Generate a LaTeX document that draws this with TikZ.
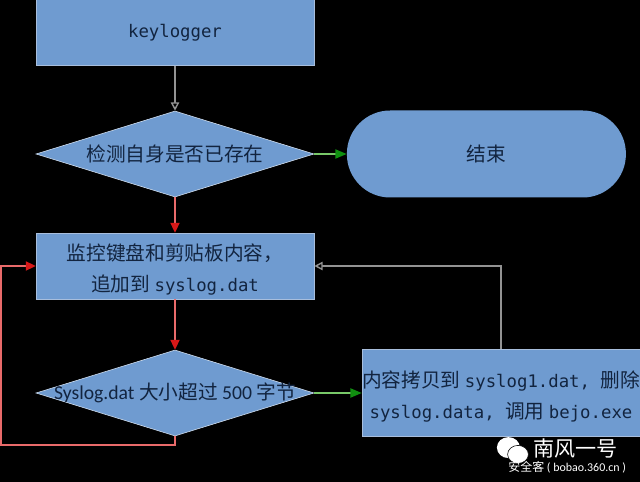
\documentclass[tikz,border=0pt]{standalone}
\usepackage{fontspec}
\setmainfont{Carlito}
\setmonofont[Scale=0.88]{DejaVu Sans Mono}
\newfontfamily\cjk{Noto Sans CJK SC}
\usetikzlibrary{shapes.geometric,arrows.meta}
\definecolor{boxfill}{HTML}{6F9BD0}
\definecolor{boxline}{HTML}{A8BEDC}
\definecolor{boxtext}{HTML}{12243F}
\definecolor{redshaft}{HTML}{E86A6A}
\definecolor{redtip}{HTML}{D81818}
\definecolor{greenshaft}{HTML}{78C868}
\definecolor{greentip}{HTML}{109010}
\tikzset{
  flowbox/.style={draw=boxline,fill=boxfill,text=boxtext,minimum width=6.95cm,inner sep=0,align=center,font=\fontsize{14pt}{22pt}\selectfont},
  flowdiamond/.style={diamond,draw=white!70!boxfill,fill=boxfill,text=boxtext,minimum width=6.95cm,minimum height=2.15cm,inner sep=0,font=\fontsize{14pt}{22pt}\selectfont},
  greyline/.style={draw=gray!85,line width=1pt,-{Triangle[length=6pt,width=6pt,fill=black,color=gray!85]}},
  redline/.style={draw=redshaft,line width=1pt,-{Triangle[length=7pt,width=6.5pt,fill=redtip,color=redtip]}},
  greenline/.style={draw=greenshaft,line width=1pt,-{Triangle[length=8pt,width=6.5pt,fill=greentip,color=greentip]}},
}
\begin{document}
\begin{tikzpicture}
\fill [color=black] (0, 0) rectangle (16, -12.05);
\useasboundingbox (0, 0) rectangle (16, -12.05);

\node (logger) at (4.375, -0.81) [flowbox,minimum height=1.65cm] {\ttfamily keylogger};
\node (check) at (4.375, -3.85) [flowdiamond] {\makebox[0pt]{\cjk 检测自身是否已存在}};
\node (finish) at (12.16, -3.85) [flowbox,draw=none,rectangle,rounded corners=1.08cm,minimum width=6.975cm,minimum height=2.175cm] {\cjk 结束};
\node (monitor) at (4.375, -6.65) [flowbox,minimum height=1.65cm] {\rule{0pt}{17pt}{\cjk 监控键盘和剪贴板内容，}\\{\cjk 追加到 }\texttt{syslog.dat}};
\node (size) at (4.375, -9.825) [flowdiamond] {\makebox[0pt]{Syslog.dat {\cjk 大小超过} 500 {\cjk 字节}}};
\node (copy) at (12.525, -9.825) [flowbox,minimum height=2.175cm] {\rule{0pt}{17pt}{\cjk 内容拷贝到 }\texttt{syslog1.dat, }{\cjk 删除}\\\texttt{syslog.data, }{\cjk 调用 }\texttt{bejo.exe}};

\coordinate (loopa) at (4.375, -11.13);
\coordinate (loopb) at (0.03, -11.13);

\draw [greyline] (logger) -- (check);
\draw [greenline] (check) -- (finish);
\draw [redline] (check) -- (monitor);
\draw [redline] (monitor) -- (size);
\draw [greenline] (size) -- (copy);
\draw [greyline] (copy.north) |- (monitor.east);
\draw [redline] (size.south) -- (loopa) -- (loopb) |- (monitor.west);

\node (iconb) at (12.71, -11.19) [ellipse,fill=white,minimum width=0.575cm,minimum height=0.525cm,inner sep=0] {};
\node (iconc) at (12.95, -11.36) [ellipse,fill=white,draw=black,minimum width=0.52cm,minimum height=0.45cm,inner sep=0] {};
\node (mark) at (14.38, -11.2) [text=white,font=\fontsize{15pt}{16pt}\selectfont] {\cjk 南风一号};
\node (site) at (14.18, -11.69) [text=white,font=\fontsize{8.5pt}{9pt}\selectfont] {{\cjk 安全客} ( bobao.360.cn )};
\end{tikzpicture}
\end{document}
